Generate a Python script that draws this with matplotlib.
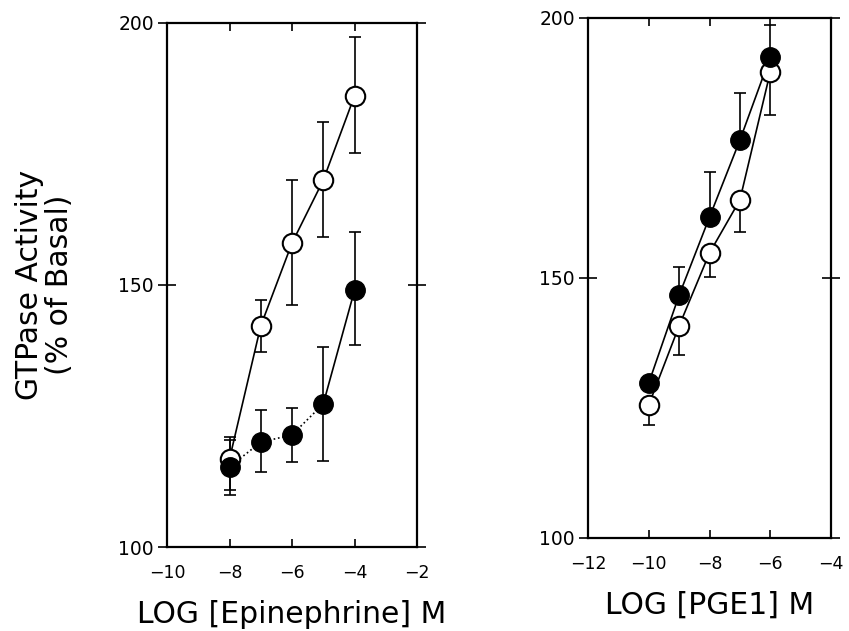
import matplotlib
matplotlib.use('Agg')
import matplotlib.pyplot as plt

plt.rcParams['font.family'] = ['DejaVu Sans']

# Epinephrine panel
ep_x = [-8, -7, -6, -5, -4]
ep_open = [116.8, 142.2, 158.0, 170.0, 186.1]
ep_open_lo = [110.8, 137.2, 146.2, 159.2, 175.2]
ep_open_hi = [121.0, 147.1, 170.0, 181.1, 197.3]
ep_filled = [115.3, 120.0, 121.4, 127.3, 149.0]
ep_filled_lo = [110.0, 114.3, 116.2, 116.4, 138.5]
ep_filled_hi = [120.5, 126.1, 126.5, 138.2, 160.1]

# PGE1 panel
pg_x = [-10, -9, -8, -7, -6]
pg_filled = [129.8, 146.7, 161.7, 176.5, 192.5]
pg_filled_hi = [131.0, 152.1, 170.4, 185.6, 198.6]
pg_open = [125.6, 140.8, 154.8, 165.0, 189.6]
pg_open_lo = [121.7, 135.2, 150.2, 158.8, 181.3]

fig = plt.figure(figsize=(8.49, 6.31), dpi=100)
ax1 = fig.add_axes([0.1967, 0.1331, 0.2945, 0.8305])
ax2 = fig.add_axes([0.6926, 0.1474, 0.2862, 0.8241])

ms = 14
lw = 1.2


def err(y, lo, hi):
    return [[a - b for a, b in zip(y, lo)], [b - a for a, b in zip(y, hi)]]


def style(ax, xlim, xticks, xlabel):
    ax.set_xlim(*xlim)
    ax.set_ylim(100, 200)
    ax.set_xticks(xticks)
    ax.set_yticks([100, 150, 200])
    ax.set_xticklabels(['\u2212%d' % abs(t) for t in xticks])
    for s in ax.spines.values():
        s.set_linewidth(1.6)
    ax.tick_params(axis='x', direction='in', top=True, length=6, width=1.2,
                   labelsize=12.5, pad=12)
    ax.tick_params(axis='y', direction='inout', right=True, length=13,
                   width=1.2, labelsize=13.5, pad=3)
    ax.set_xlabel(xlabel, fontsize=21.5, labelpad=13)


# left panel
ax1.errorbar(ep_x, ep_open, yerr=err(ep_open, ep_open_lo, ep_open_hi),
             fmt='none', ecolor='k', elinewidth=lw, capsize=4, capthick=lw, zorder=1)
ax1.errorbar(ep_x, ep_filled, yerr=err(ep_filled, ep_filled_lo, ep_filled_hi),
             fmt='none', ecolor='k', elinewidth=lw, capsize=4, capthick=lw, zorder=1)
ax1.plot(ep_x, ep_open, '-', color='k', lw=lw, zorder=2)
ax1.plot(ep_x[:4], ep_filled[:4], ':', color='k', lw=lw, zorder=2)
ax1.plot(ep_x[3:], ep_filled[3:], '-', color='k', lw=lw, zorder=2)
ax1.plot(ep_x, ep_open, 'o', ms=ms, mfc='white', mec='k', mew=1.5, zorder=3)
ax1.plot(ep_x, ep_filled, 'o', ms=ms, mfc='k', mec='k', zorder=4)
style(ax1, (-10, -2), [-10, -8, -6, -4, -2], 'LOG [Epinephrine] M')

# right panel
ax2.errorbar(pg_x, pg_filled, yerr=[[0] * 5, [b - a for a, b in zip(pg_filled, pg_filled_hi)]],
             fmt='none', ecolor='k', elinewidth=lw, capsize=4, capthick=lw, zorder=1)
ax2.errorbar(pg_x, pg_open, yerr=[[a - b for a, b in zip(pg_open, pg_open_lo)], [0] * 5],
             fmt='none', ecolor='k', elinewidth=lw, capsize=4, capthick=lw, zorder=1)
ax2.plot(pg_x, pg_filled, '-', color='k', lw=lw, zorder=2)
ax2.plot(pg_x, pg_open, '-', color='k', lw=lw, zorder=2)
ax2.plot(pg_x, pg_open, 'o', ms=ms, mfc='white', mec='k', mew=1.5, zorder=3)
ax2.plot(pg_x, pg_filled, 'o', ms=ms, mfc='k', mec='k', zorder=4)
style(ax2, (-12, -4), [-12, -10, -8, -6, -4], 'LOG [PGE1] M')

fig.text(0.052, 0.548, 'GTPase Activity\n(% of Basal)', rotation=90,
         ha='center', va='center', fontsize=21.5, linespacing=1.05)

fig.savefig('out.png', dpi=100, facecolor='white')
